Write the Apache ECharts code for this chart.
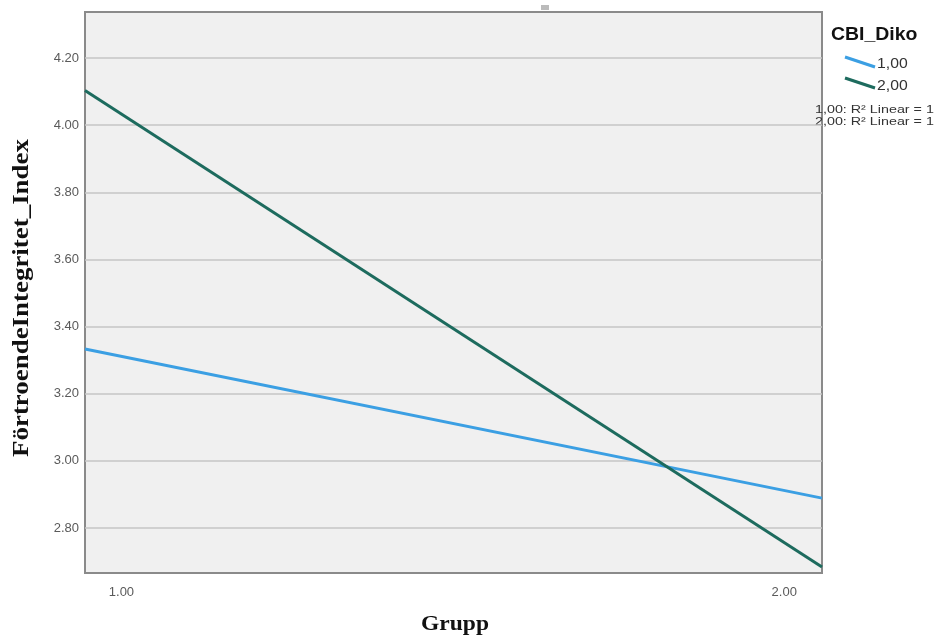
<!DOCTYPE html>
<html>
<head>
<meta charset="utf-8">
<script src="https://cdn.jsdelivr.net/npm/echarts@6/dist/echarts.min.js"></script>
<style>html,body{margin:0;padding:0;background:#fff}#c{width:940px;height:639px}</style>
</head>
<body>
<div id="c"></div>
<script>
// Fit-line endpoints read at the axis extents
const xEnds = [0.945, 2.057];
const series1Name = '1,00';
const series1Values = [3.333, 2.889];
const series2Name = '2,00';
const series2Values = [4.103, 2.684];
const yTicks = [2.8, 3.0, 3.2, 3.4, 3.6, 3.8, 4.0, 4.2];
const xTicks = [1, 2];
const xTitle = 'Grupp';
const yTitle = 'FörtroendeIntegritet_Index';
const legendTitle = 'CBI_Diko';
const r2Labels = ['1,00: R² Linear = 1', '2,00: R² Linear = 1'];

const blue = '#3b9fe3';
const green = '#1d6b5e';

const chart = echarts.init(document.getElementById('c'));
chart.setOption({
  animation: false,
  backgroundColor: '#ffffff',
  grid: { left: 85, top: 12, right: 118, bottom: 66, show: true, backgroundColor: '#f0f0f0', borderColor: '#8a8a8a', borderWidth: 2 },
  xAxis: {
    type: 'value', min: xEnds[0], max: xEnds[1],
    axisLine: { show: false }, axisTick: { show: false, customValues: xTicks },
    axisLabel: { customValues: xTicks, formatter: v => v.toFixed(2), color: '#5a5a5a', fontSize: 13, fontFamily: 'Liberation Sans', margin: 13 },
    splitLine: { show: false }
  },
  yAxis: {
    type: 'value', min: 2.666, max: 4.337,
    axisLine: { show: false },
    axisTick: { show: false, customValues: yTicks },
    axisLabel: { customValues: yTicks, formatter: v => v.toFixed(2), color: '#5a5a5a', fontSize: 13, fontFamily: 'Liberation Sans', margin: 6 },
    splitLine: { show: true, lineStyle: { color: '#c6c6c6', width: 1.5 } }
  },
  series: [
    { name: series1Name, type: 'line', data: xEnds.map((x, i) => [x, series1Values[i]]), symbol: 'none', lineStyle: { color: blue, width: 3 }, z: 3 },
    { name: series2Name, type: 'line', data: xEnds.map((x, i) => [x, series2Values[i]]), symbol: 'none', lineStyle: { color: green, width: 3 }, z: 4 }
  ],
  graphic: [
    { type: 'rect', shape: { x: 541, y: 5, width: 8, height: 5 }, style: { fill: '#bbb' } },
    { type: 'text', x: 455, y: 625, scaleX: 1.12, style: { text: xTitle, font: 'bold 21px "Liberation Serif"', fill: '#111', align: 'center', verticalAlign: 'middle' } },
    { type: 'text', x: 22, y: 298, rotation: Math.PI / 2, scaleX: 1.17, style: { text: yTitle, font: 'bold 23px "Liberation Serif"', fill: '#111', align: 'center', verticalAlign: 'middle' } },
    { type: 'text', x: 831, y: 35, scaleX: 1.08, style: { text: legendTitle, font: 'bold 18px "Liberation Sans"', fill: '#111', verticalAlign: 'middle' } },
    { type: 'line', shape: { x1: 845, y1: 57, x2: 875, y2: 67 }, style: { stroke: blue, lineWidth: 3 } },
    { type: 'text', x: 877, y: 64, scaleX: 1.05, style: { text: series1Name, font: '15px "Liberation Sans"', fill: '#333', verticalAlign: 'middle' } },
    { type: 'line', shape: { x1: 845, y1: 78, x2: 875, y2: 88 }, style: { stroke: green, lineWidth: 3 } },
    { type: 'text', x: 877, y: 86, scaleX: 1.05, style: { text: series2Name, font: '15px "Liberation Sans"', fill: '#333', verticalAlign: 'middle' } },
    { type: 'text', x: 815, y: 110, scaleX: 1.3, style: { text: r2Labels[0], font: '11px "Liberation Sans"', fill: '#333', verticalAlign: 'middle' } },
    { type: 'text', x: 815, y: 122, scaleX: 1.3, style: { text: r2Labels[1], font: '11px "Liberation Sans"', fill: '#333', verticalAlign: 'middle' } }
  ]
});
</script>
</body>
</html>
